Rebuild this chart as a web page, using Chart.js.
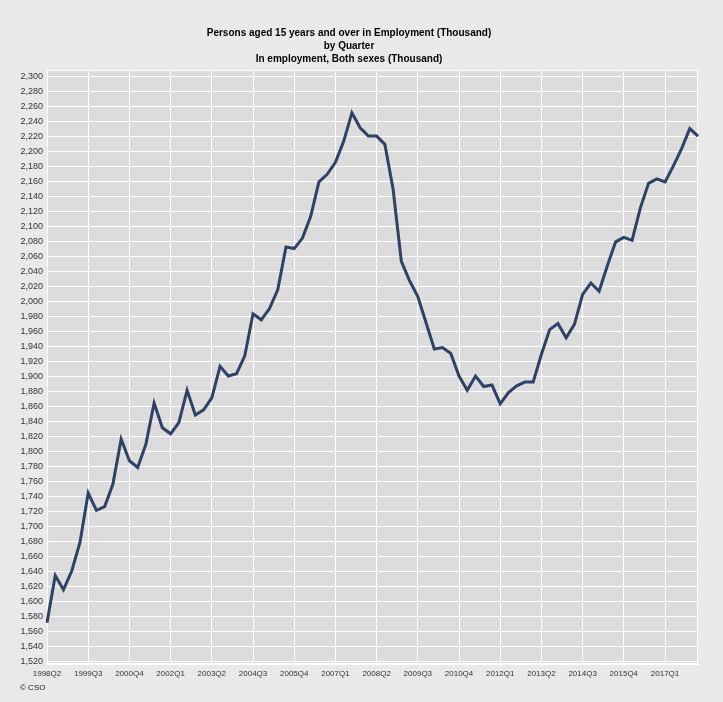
<!DOCTYPE html>
<html><head><meta charset="utf-8">
<script src="https://cdn.jsdelivr.net/npm/chart.js@4/dist/chart.umd.min.js"></script>
<style>html,body{margin:0;padding:0;background:#e9e9e9;} canvas{display:block;}</style>
</head><body>
<canvas id="c" width="723" height="702"></canvas>
<script>
const quarters = [
 "1998Q2","1998Q3","1998Q4",
 "1999Q1","1999Q2","1999Q3","1999Q4",
 "2000Q1","2000Q2","2000Q3","2000Q4",
 "2001Q1","2001Q2","2001Q3","2001Q4",
 "2002Q1","2002Q2","2002Q3","2002Q4",
 "2003Q1","2003Q2","2003Q3","2003Q4",
 "2004Q1","2004Q2","2004Q3","2004Q4",
 "2005Q1","2005Q2","2005Q3","2005Q4",
 "2006Q1","2006Q2","2006Q3","2006Q4",
 "2007Q1","2007Q2","2007Q3","2007Q4",
 "2008Q1","2008Q2","2008Q3","2008Q4",
 "2009Q1","2009Q2","2009Q3","2009Q4",
 "2010Q1","2010Q2","2010Q3","2010Q4",
 "2011Q1","2011Q2","2011Q3","2011Q4",
 "2012Q1","2012Q2","2012Q3","2012Q4",
 "2013Q1","2013Q2","2013Q3","2013Q4",
 "2014Q1","2014Q2","2014Q3","2014Q4",
 "2015Q1","2015Q2","2015Q3","2015Q4",
 "2016Q1","2016Q2","2016Q3","2016Q4",
 "2017Q1","2017Q2","2017Q3","2017Q4",
 "2018Q1"
];
const inEmployment = [
 1572, 1635, 1616, 1641, 1679, 1745, 1722, 1727, 1757, 1817,
 1788, 1779, 1810, 1865, 1832, 1824, 1839, 1882, 1849, 1856,
 1872, 1914, 1901, 1904, 1928, 1984, 1976, 1991, 2016, 2073,
 2071, 2085, 2114, 2160, 2170, 2186, 2214, 2252, 2232, 2221,
 2221, 2210, 2150, 2054, 2028, 2007, 1972, 1937, 1939, 1931,
 1901, 1882, 1901, 1887, 1889, 1864, 1879, 1888, 1893, 1893,
 1930, 1963, 1971, 1952, 1970, 2010, 2025, 2014, 2048, 2080,
 2086, 2082, 2125, 2158, 2164, 2160, 2181, 2204, 2231, 2221
];
const titleLines = [
 "Persons aged 15 years and over in Employment (Thousand)",
 "by Quarter",
 "In employment, Both sexes (Thousand)"
];
const sourceText = "\u00A9 CSO";
const yMin = 1517, yMax = 2309, yStep = 20, xTickEvery = 5;

const FONT = "'Liberation Sans', Arial, sans-serif";

const decor = {
  id: 'decor',
  beforeDraw(chart) {
    const {ctx, chartArea: a} = chart;
    ctx.save();
    ctx.fillStyle = '#e9e9e9';
    ctx.fillRect(0, 0, chart.width, chart.height);
    ctx.fillStyle = '#dcdcdc';
    ctx.fillRect(a.left, a.top, a.right - a.left, a.bottom - a.top);
    ctx.restore();
  },
  beforeDatasetsDraw(chart) {
    const {ctx, chartArea: a} = chart;
    ctx.save();
    ctx.strokeStyle = '#ffffff';
    ctx.lineWidth = 1;
    ctx.strokeRect(a.left + 0.5, a.top + 0.5, a.right - a.left - 1, a.bottom - a.top - 1);
    ctx.restore();
  },
  afterDraw(chart) {
    const ctx = chart.ctx;
    ctx.save();
    ctx.fillStyle = '#222';
    ctx.font = "8px " + FONT;
    ctx.textBaseline = 'middle';
    ctx.fillText(sourceText, 20, 688);
    ctx.restore();
  }
};

new Chart(document.getElementById('c'), {
  type: 'line',
  data: {
    labels: quarters,
    datasets: [{
      data: inEmployment,
      borderColor: '#2f4164',
      borderWidth: 3,
      pointRadius: 0,
      tension: 0,
      fill: false
    }]
  },
  options: {
    responsive: false,
    animation: false,
    devicePixelRatio: 1,
    layout: { padding: { left: 0, right: 25, top: 0, bottom: 0 } },
    plugins: {
      legend: { display: false },
      tooltip: { enabled: false },
      title: {
        display: true,
        text: titleLines,
        color: '#000',
        font: { family: FONT, size: 10, weight: 'bold', lineHeight: 1.27 },
        padding: { top: 27, bottom: 5 }
      }
    },
    scales: {
      x: {
        type: 'category',
        offset: false,
        grid: { color: '#ffffff', lineWidth: 1, drawTicks: false },
        border: { display: true, color: '#ffffff' },
        ticks: {
          autoSkip: false, maxRotation: 0, minRotation: 0, padding: 5,
          color: '#333', font: { family: FONT, size: 8 }
        },
        afterBuildTicks(s) { s.ticks = s.ticks.filter(t => t.value % xTickEvery === 0); },
        afterFit(s) { s.height = 38; }
      },
      y: {
        type: 'linear',
        min: yMin, max: yMax,
        grid: { color: '#ffffff', lineWidth: 1, drawTicks: false },
        border: { display: true, color: '#ffffff' },
        ticks: {
          stepSize: yStep, padding: 4, color: '#333', includeBounds: false,
          font: { family: FONT, size: 9 },
          callback: v => v.toLocaleString('en-US')
        },
        afterBuildTicks(s) { s.ticks = s.ticks.filter(t => Math.round(t.value) % yStep === 0); },
        afterFit(s) { s.width = 47; }
      }
    }
  },
  plugins: [decor]
});
</script>
</body></html>
